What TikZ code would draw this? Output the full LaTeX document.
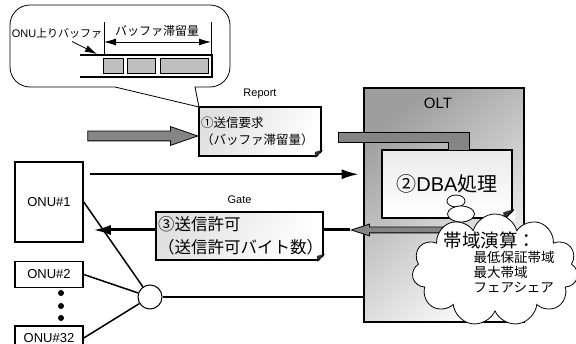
\documentclass[tikz,border=0pt]{standalone}
\usepackage{fontspec}
\setmainfont{Liberation Sans}
\newfontfamily\jp{Noto Sans CJK JP}
\usetikzlibrary{positioning,shapes,shapes.symbols,shapes.arrows,arrows.meta,calc}

\begin{document}
\begin{tikzpicture}[%
        x=1pt,y=-1pt,
        >={Latex[length=12pt,width=7pt]},
        onu/.style={%
          draw,
          line width=1.5pt,
          minimum width=68pt,
          inner sep=0pt,
          font=\fontsize{13}{15}\selectfont
        },
        note/.style={%
          draw,
          line width=1.8pt,
          top color=black!12, bottom color=white, shading angle=60,
          inner xsep=2pt, inner ysep=0pt,
          align=left
        },
        fold/.style={fill=black!80},
        greyarrow/.style={%
          single arrow,
          draw,
          line width=0.8pt,
          fill=black!48,
          inner xsep=0pt
        },
        cell/.style={draw,line width=0.6pt,fill=black!25,minimum height=15pt,inner sep=0pt},
        caption/.style={font=\fontsize{11}{13}\selectfont},
        thought/.style={ellipse,draw,fill=white,line width=0.8pt,inner sep=0pt}
      ]
      \useasboundingbox (0,0) rectangle (576,344);

      % speech balloon with the buffer
      \draw[line width=0.8pt,fill=white] (199,107) -- (115,87)
        {[rounded corners=20pt] -- (10,87) -- (10,5) -- (230,5) -- (230,87)} -- (195,87) -- cycle;
      \node[font=\fontsize{11}{13}\selectfont] (buflabel) at (57,33) {ONU{\jp 上りバッファ}};
      \node[font=\jp\fontsize{12}{14}\selectfont] (dimlabel) at (157,31) {バッファ滞留量};
      \draw[line width=1.8pt] (80,55) -- (212,55) -- (212,77) -- (80,77);
      \node[cell,minimum width=20pt] (c1) at (113,65.5) {};
      \node[cell,minimum width=28pt] (c2) at (141,65.5) {};
      \node[cell,minimum width=48pt] (c3) at (184,65.5) {};
      \coordinate (dimL) at (104,42);
      \coordinate (dimR) at (211,42);
      \coordinate (bufin) at (97,54);
      \draw[line width=0.8pt] (104,22) -- (104,54) (211,22) -- (211,54);
      \draw[<->,line width=0.8pt] (dimL) -- (dimR);
      \draw[->,line width=0.8pt] (buflabel.south) ++(15,0) -- (bufin);

      % OLT
      \node[draw,line width=2.6pt,minimum width=160pt,minimum height=234pt,
        top color=black!38,bottom color=black!2,shading angle=40] (olt) at (444,205) {};
      \node[font=\fontsize{15}{17}\selectfont] (olttitle) at (438,103) {OLT};
      \node[note,line width=2.6pt,minimum width=130pt,minimum height=68pt,
        top color=black!8,bottom color=white,
        font=\fontsize{20}{22}\selectfont] (dba) at (447,184) {{\jp ②}DBA{\jp 処理}};
      \fill[black!48,draw=black,line width=0.8pt] (338,132) -- (469,132) -- (469,150)
        -- (448,150) -- (448,142) -- (338,142) -- cycle;

      % ONUs and splitter
      \node[onu,minimum height=80pt] (onu1) at (49,202) {ONU\#1};
      \node[onu,minimum height=26pt] (onu2) [below=18pt of onu1] {ONU\#2};
      \node[circle,fill,inner sep=0pt,minimum size=6pt] (dot1) at (61,293) {};
      \node[circle,fill,inner sep=0pt,minimum size=6pt] (dot2) at (61,306) {};
      \node[circle,fill,inner sep=0pt,minimum size=6pt] (dot3) at (61,318) {};
      \node[onu,minimum height=24pt,fill=white] (onu32) [below=37pt of onu2] {ONU\#32};
      \node[circle,draw,fill=white,line width=1pt,minimum size=24pt] (spl) at (150,297) {};

      \path[line width=1.5pt] (onu1.east) edge [] (spl)
        (onu2.east) edge [] (spl)
        (onu32.east) edge [] (spl)
        (spl.east) edge [] (spl.east -| olt.west);

      % report
      \node[greyarrow,minimum height=110pt,inner ysep=4.5pt,
        single arrow head extend=4.5pt,single arrow tip angle=38,
        anchor=tip] (reportarrow) at ([yshift=-4.5pt]199,131.5) {};
      \node[note,text width=118pt,minimum height=49pt,
        font=\jp\fontsize{12.5}{17}\selectfont] (report) at (260,131.5) {①送信要求\\（バッファ滞留量）};
      \node[caption] (reportlbl) [above=4pt of report] {Report};

      % upstream data
      \coordinate (upstart) at ($(onu1.north east)+(6,13)$);
      \draw[->,line width=2.2pt,shorten >=4pt,>={Latex[length=17pt,width=10pt]}]
        (upstart) -- (upstart -| olt.west);

      % gate
      \node[greyarrow,minimum height=97pt,inner ysep=2.5pt,
        single arrow head extend=3pt,single arrow tip angle=36,
        rotate=180,anchor=tip] (gatearrow) at (350,230) {};
      \draw[->,line width=3pt,shorten >=9pt,>={Latex[length=18pt,width=10pt]}]
        (gatearrow.tip) -- (gatearrow.tip -| onu1.east);
      \node[note,text width=163pt,minimum height=48pt,
        font=\jp\fontsize{16.5}{23}\selectfont] (gate) at (239.5,236) {③送信許可\\（送信許可バイト数）};
      \node[caption] (gatelbl) [above=4pt of gate] {Gate};

      % folded corners
      \foreach \n/\s/\w in {report/7/1.8pt,gate/7/1.8pt,dba/10/2.6pt} {
        \fill[white] ($(\n.south east)+(-\s,2)$) -- ($(\n.south east)+(2,2)$)
          -- ($(\n.south east)+(2,-\s)$) -- cycle;
        \draw[line width=\w] ($(\n.south east)+(-\s,0)$) -- ($(\n.south east)+(0,-\s)$);
        \fill[fold] ($(\n.south east)+(-\s,0)$) -- ($(\n.south east)+(0,-\s)$)
          -- ($(\n.south east)+(-\s,-0.7*\s)$) -- cycle;
      }

      % bandwidth calculation
      \node[thought,minimum width=18pt,minimum height=12pt] (th1) at (456,201) {};
      \node[thought,minimum width=27pt,minimum height=16pt] (th2) at (461,214) {};
      \node[cloud,draw,fill=white,line width=0.8pt,cloud puffs=11,aspect=1.5,
        minimum width=166pt,minimum height=112pt] (bwcloud) at (495,270) {};
      \node[font=\jp\fontsize{18.5}{20}\selectfont] (bwtitle) at (490,240) {帯域演算：};
      \node[font=\jp\fontsize{13.5}{15}\selectfont,align=left,anchor=west] (bwlist) at (470,272)
        {最低保証帯域\\最大帯域\\フェアシェア};

\end{tikzpicture}
\end{document}
